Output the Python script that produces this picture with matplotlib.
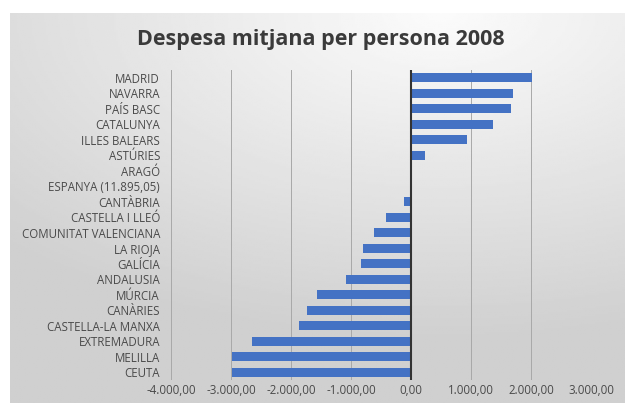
"""Despesa mitjana per persona 2008 - horizontal bar chart."""
import matplotlib

matplotlib.use("Agg")
import matplotlib.pyplot as plt
import numpy as np
from matplotlib.ticker import FuncFormatter

regions = [
    "MADRID", "NAVARRA", "PAÍS BASC", "CATALUNYA", "ILLES BALEARS", "ASTÚRIES",
    "ARAGÓ", "ESPANYA (11.895,05)", "CANTÀBRIA", "CASTELLA I LLEÓ",
    "COMUNITAT VALENCIANA", "LA RIOJA", "GALÍCIA", "ANDALUSIA", "MÚRCIA",
    "CANÀRIES", "CASTELLA-LA MANXA", "EXTREMADURA", "MELILLA", "CEUTA",
]
diff = [
    2010, 1700, 1670, 1370, 930, 230,
    0, 0, -120, -420,
    -620, -800, -840, -1090, -1570,
    -1740, -1870, -2650, -2980, -2980,
]
x_ticks = [-4000, -3000, -2000, -1000, 0, 1000, 2000, 3000]

FONT = ["Open Sans", "DejaVu Sans"]
TXT = "#4a4a4a"


def fmt(v, _pos=None):
    s = f"{abs(v):,.2f}".replace(",", "X").replace(".", ",").replace("X", ".")
    return ("-" if v < 0 else "") + s


fig = plt.figure(figsize=(6.25, 4.03), dpi=100)

# background gradient for chart area
bg = fig.add_axes([10 / 625, 0, 615 / 625, 1 - 13 / 403], zorder=-10)
yy, xx = np.mgrid[0:1:200j, 0:1:300j]
d = np.sqrt((xx - 0.7) ** 2 + (yy * 1.2) ** 2)
shade = 0.985 - 0.17 * np.clip(d / 1.0, 0, 1)
bg.imshow(shade, cmap="gray", vmin=0, vmax=1, aspect="auto", extent=[0, 1, 1, 0])
bg.set_axis_off()

ax = fig.add_axes([171 / 625, 1 - 380 / 403, 420 / 625, 310 / 403])
ax.patch.set_alpha(0)
y = np.arange(len(regions))
ax.barh(y, diff, height=0.57, color="#4472C4", zorder=3)
ax.set_ylim(len(regions) - 0.5, -0.5)
ax.set_xlim(x_ticks[0], x_ticks[-1])
ax.set_xticks(x_ticks)
ax.xaxis.set_major_formatter(FuncFormatter(fmt))
ax.set_yticks(y)
ax.set_yticklabels(regions)
ax.tick_params(length=0, labelsize=8.3, labelcolor=TXT, pad=3)
ax.tick_params(axis="y", pad=8)
for lbl in ax.get_xticklabels() + ax.get_yticklabels():
    lbl.set_family(FONT)
ax.grid(axis="x", color="#a8a8a8", linewidth=0.7, zorder=0)
ax.axvline(0, color="#333333", linewidth=1.5, zorder=4)
for sp in ax.spines.values():
    sp.set_visible(False)

fig.text(321 / 625, 1 - 40 / 403, "Despesa mitjana per persona 2008",
         ha="center", va="center", fontsize=15.5, fontweight="bold",
         color="#3a3a3a", family=FONT)

fig.savefig("out.png", dpi=100)
